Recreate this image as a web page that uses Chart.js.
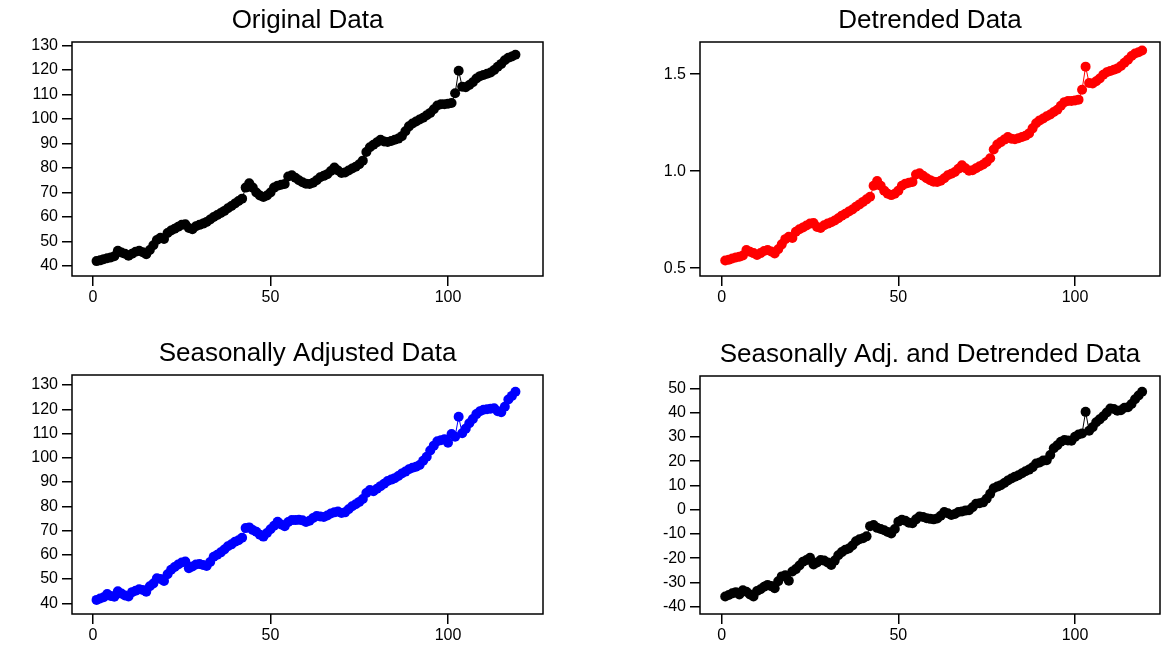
<!DOCTYPE html>
<html lang="en">
<head>
  <meta charset="UTF-8">
  <title>Original / Detrended / Seasonally Adjusted</title>
  <script src="https://cdn.jsdelivr.net/npm/chart.js"></script>
  <style>
    body { margin: 0; background: #fff; }
    #wrap { position: relative; width: 1167px; height: 656px; }
    #wrap canvas { position: absolute; left: 0; top: 0; }
  </style>
</head>
<body>
<div id="wrap">
  <canvas id="orig" width="1167" height="656"></canvas>
  <canvas id="detr" width="1167" height="656"></canvas>
  <canvas id="sadj" width="1167" height="656"></canvas>
  <canvas id="sadt" width="1167" height="656"></canvas>
</div>
<script>
  // values, x = 1..119
  const originalData = [
    42.0, 42.3, 42.8, 43.2, 43.5, 44.0, 46.2, 45.5, 45.0, 44.2,
    45.0, 45.8, 46.2, 45.6, 44.8, 46.5, 48.5, 50.6, 51.5, 51.0,
    53.5, 54.5, 55.2, 56.0, 56.8, 57.0, 55.5, 55.0, 56.2, 56.8,
    57.3, 58.0, 59.0, 60.0, 60.8, 61.6, 62.5, 63.6, 64.5, 65.5,
    66.5, 67.5, 72.0, 73.8, 72.0, 70.0, 68.8, 68.2, 68.8, 70.0,
    72.0, 72.8, 73.2, 73.5, 76.5, 77.0, 76.0, 75.0, 74.2, 73.6,
    73.5, 74.0, 75.0, 76.2, 76.8, 77.5, 78.8, 80.2, 79.0, 78.0,
    78.2, 79.0, 79.8, 80.5, 81.5, 83.0, 86.5, 88.5, 89.5, 90.5,
    91.5, 90.8, 90.6, 91.0, 91.5, 92.0, 93.0, 95.0, 97.0, 98.2,
    99.0, 99.8, 100.5, 101.5, 102.5, 104.0, 105.5, 106.0, 106.0, 106.2,
    106.5, 110.5, 119.7, 113.2, 113.0, 113.9, 115.0, 116.5, 117.5, 118.0,
    118.5, 119.0, 120.0, 121.3, 122.5, 124.0, 125.0, 125.5, 126.2
  ];
  const detrendedData = [
    0.540, 0.544, 0.550, 0.555, 0.559, 0.566, 0.594, 0.585, 0.578, 0.568,
    0.578, 0.589, 0.594, 0.586, 0.576, 0.598, 0.623, 0.650, 0.662, 0.656,
    0.688, 0.701, 0.710, 0.720, 0.730, 0.733, 0.713, 0.707, 0.722, 0.730,
    0.737, 0.746, 0.758, 0.771, 0.781, 0.792, 0.803, 0.817, 0.829, 0.842,
    0.855, 0.868, 0.925, 0.949, 0.925, 0.900, 0.884, 0.877, 0.884, 0.900,
    0.925, 0.936, 0.941, 0.945, 0.983, 0.990, 0.977, 0.964, 0.954, 0.946,
    0.945, 0.951, 0.964, 0.979, 0.987, 0.996, 1.013, 1.031, 1.015, 1.003,
    1.005, 1.015, 1.026, 1.035, 1.048, 1.067, 1.112, 1.138, 1.150, 1.163,
    1.176, 1.167, 1.165, 1.170, 1.176, 1.183, 1.195, 1.221, 1.247, 1.262,
    1.272, 1.283, 1.292, 1.305, 1.317, 1.337, 1.356, 1.362, 1.362, 1.365,
    1.369, 1.420, 1.539, 1.455, 1.452, 1.464, 1.478, 1.497, 1.510, 1.517,
    1.523, 1.530, 1.542, 1.559, 1.575, 1.594, 1.607, 1.613, 1.622
  ];
  const seasAdjData = [
    41.4, 42.0, 42.5, 43.8, 43.0, 42.7, 45.0, 44.0, 43.2, 42.8,
    44.6, 45.2, 45.8, 45.5, 44.8, 47.0, 48.2, 50.3, 50.0, 49.2,
    52.0, 53.8, 55.0, 56.0, 56.8, 57.2, 54.5, 55.2, 56.0, 56.2,
    55.8, 55.4, 57.0, 59.2, 60.0, 61.0, 62.2, 63.5, 64.3, 65.4,
    66.0, 67.0, 71.0, 71.3, 70.2, 69.5, 68.3, 67.5, 69.0, 70.5,
    72.0, 73.6, 72.5, 71.8, 73.5, 74.3, 74.3, 74.4, 74.2, 73.5,
    74.0, 75.2, 76.0, 75.8, 75.6, 76.2, 77.0, 77.5, 77.8, 77.2,
    77.5, 78.8, 80.0, 80.8, 81.8, 83.0, 85.5, 86.7, 86.2, 87.2,
    88.3, 89.3, 90.4, 91.0, 91.6, 92.5, 93.5, 94.3, 95.3, 95.9,
    96.3, 97.0, 98.8, 100.4, 103.0, 105.0, 106.8, 107.2, 107.6, 106.2,
    109.8, 108.7, 116.9, 110.1, 112.0, 114.2, 116.0, 118.0, 119.2, 119.8,
    120.0, 120.2, 120.4, 119.2, 118.8, 121.0, 124.0, 125.5, 127.2
  ];
  const seasAdjDetrendedData = [
    -35.8, -35.2, -34.5, -34.0, -35.0, -33.2, -33.8, -35.0, -35.8, -33.5,
    -32.8, -31.8, -31.0, -31.5, -32.4, -29.5, -27.5, -27.0, -29.3, -25.5,
    -24.5, -23.0, -21.5, -20.8, -19.8, -22.6, -21.8, -20.8, -21.0, -21.8,
    -22.8, -21.0, -18.8, -17.5, -16.5, -16.0, -14.8, -13.0, -12.2, -11.8,
    -11.0, -6.8, -6.3, -7.5, -8.0, -8.5, -9.2, -9.8, -8.0, -5.0,
    -4.2, -4.6, -5.4, -5.6, -4.0, -2.8, -3.0, -3.5, -3.8, -4.0,
    -3.6, -2.5, -1.0, -1.5, -2.2, -1.8, -1.0, -0.8, -0.4, -0.2,
    1.0, 2.4, 2.6, 3.0, 4.5, 6.5, 8.8, 9.5, 10.1, 11.0,
    12.0, 12.8, 13.6, 14.2, 15.0, 15.8, 16.5, 17.5, 19.0, 19.4,
    20.2, 20.4, 22.5, 25.3, 26.5, 28.0, 28.7, 28.5, 28.4, 30.0,
    31.0, 31.4, 40.3, 32.5, 34.0, 36.0, 37.2, 38.5, 40.0, 41.7,
    41.5, 40.8, 41.0, 42.0, 42.2, 43.5, 45.5, 47.0, 48.6
  ];

  const xTicks = [0, 50, 100];
  const yTicksOriginal = [40, 50, 60, 70, 80, 90, 100, 110, 120, 130];
  const yTicksDetrended = [0.5, 1.0, 1.5];
  const yTicksSeasAdj = [40, 50, 60, 70, 80, 90, 100, 110, 120, 130];
  const yTicksSeasAdjDet = [-40, -30, -20, -10, 0, 10, 20, 30, 40, 50];

  const FONT = '"Liberation Sans", Arial, sans-serif';
  const W = 1167, H = 656;

  // box around the plot + title over its centre
  const panelFrame = {
    id: 'panelFrame',
    afterDraw(chart, args, opts) {
      const { ctx, chartArea: a } = chart;
      ctx.save();
      ctx.strokeStyle = '#000';
      ctx.lineWidth = 1.5;
      ctx.strokeRect(a.left, a.top, a.right - a.left, a.bottom - a.top);
      ctx.fillStyle = '#000';
      ctx.font = '26px ' + FONT;
      ctx.textAlign = 'center';
      ctx.textBaseline = 'alphabetic';
      ctx.fillText(opts.text, (a.left + a.right) / 2, a.top - 14);
      ctx.restore();
    }
  };

  function makePanel(id, title, values, color, box, xRange, yRange, yTicks, yFmt) {
    const axisGrid = { drawOnChartArea: false, drawTicks: true, tickLength: 10, color: '#000', lineWidth: 1.5 };
    const tickFont = { family: FONT, size: 16 };
    return new Chart(document.getElementById(id), {
      type: 'line',
      data: {
        datasets: [{
          data: values.map((v, i) => ({ x: i + 1, y: v })),
          borderColor: color,
          backgroundColor: color,
          pointBackgroundColor: color,
          borderWidth: 1,
          pointRadius: 5,
          pointHoverRadius: 5,
          pointBorderWidth: 0,
          tension: 0
        }]
      },
      options: {
        responsive: false,
        animation: false,
        events: [],
        layout: {
          padding: { left: box.left - 70, right: W - box.right, top: box.top, bottom: H - box.bottom - 40 }
        },
        plugins: {
          legend: { display: false },
          tooltip: { enabled: false },
          panelFrame: { text: title }
        },
        scales: {
          x: {
            type: 'linear',
            min: xRange[0], max: xRange[1],
            afterBuildTicks: s => { s.ticks = xTicks.map(v => ({ value: v })); },
            afterFit: s => { s.height = 40; },
            grid: axisGrid,
            border: { display: false },
            ticks: { color: '#000', font: tickFont, padding: 2, maxRotation: 0, autoSkip: false }
          },
          y: {
            type: 'linear',
            min: yRange[0], max: yRange[1],
            afterBuildTicks: s => { s.ticks = yTicks.map(v => ({ value: v })); },
            afterFit: s => { s.width = 70; },
            grid: axisGrid,
            border: { display: false },
            ticks: { color: '#000', font: tickFont, padding: 4, autoSkip: false, callback: yFmt }
          }
        }
      },
      plugins: [panelFrame]
    });
  }

  const plain = v => String(v);
  const oneDec = v => v.toFixed(1);

  makePanel('orig', 'Original Data', originalData, '#000000',
    { left: 72, right: 543, top: 42, bottom: 276 }, [-5.92, 126.76], [35.92, 131.43], yTicksOriginal, plain);
  makePanel('detr', 'Detrended Data', detrendedData, '#FF0000',
    { left: 700, right: 1160, top: 42, bottom: 276 }, [-6.14, 124.06], [0.460, 1.666], yTicksDetrended, oneDec);
  makePanel('sadj', 'Seasonally Adjusted Data', seasAdjData, '#0000FF',
    { left: 72, right: 543, top: 375, bottom: 614 }, [-5.92, 126.76], [35.59, 134.12], yTicksSeasAdj, plain);
  makePanel('sadt', 'Seasonally Adj. and Detrended Data', seasAdjDetrendedData, '#000000',
    { left: 700, right: 1160, top: 376, bottom: 614 }, [-6.14, 124.06], [-43.0, 55.07], yTicksSeasAdjDet, plain);
</script>
</body>
</html>
